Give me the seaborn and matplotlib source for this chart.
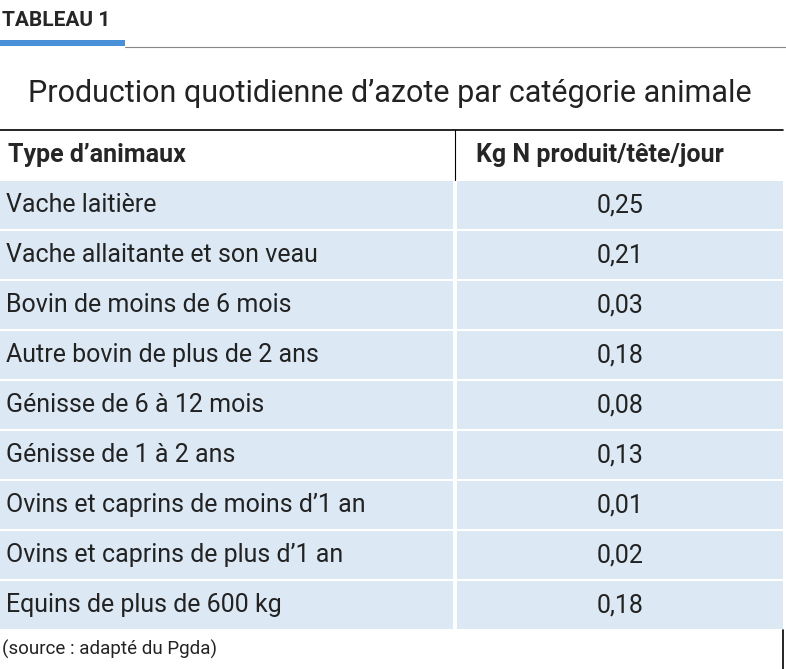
import matplotlib.pyplot as plt
import seaborn as sns
from matplotlib.patches import Rectangle

sns.set_style("white")
plt.rcParams["font.family"] = ["Liberation Sans Narrow", "Roboto", "DejaVu Sans"]

label = "TABLEAU 1"
title = "Production quotidienne d’azote par catégorie animale"
headers = ["Type d’animaux", "Kg N produit/tête/jour"]
animals = ["Vache laitière", "Vache allaitante et son veau", "Bovin de moins de 6 mois",
           "Autre bovin de plus de 2 ans", "Génisse de 6 à 12 mois", "Génisse de 1 à 2 ans",
           "Ovins et caprins de moins d’1 an", "Ovins et caprins de plus d’1 an",
           "Equins de plus de 600 kg"]
values = ["0,25", "0,21", "0,03", "0,18", "0,08", "0,13", "0,01", "0,02", "0,18"]
source = "(source : adapté du Pgda)"

W, H = 786, 669
fig = plt.figure(figsize=(W / 100, H / 100), dpi=100)
ax = fig.add_axes([0, 0, 1, 1])
ax.set_xlim(0, W)
ax.set_ylim(H, 0)
ax.axis("off")

blue = "#dce9f5"
ax.text(2, 20, label, fontsize=15, fontweight="bold", va="center", ha="left")
ax.add_patch(Rectangle((0, 40), 125, 6, color="#4a90d9", lw=0))
ax.plot([125, W], [47, 47], color="#888888", lw=0.8)
ax.text(390, 93, title, fontsize=22, va="center", ha="center", color="#222222")

ax.plot([0, 783], [130, 130], color="black", lw=1.2)
ax.text(8, 155, headers[0], fontsize=18, fontweight="bold", va="center")
ax.text(600, 155, headers[1], fontsize=18, fontweight="bold", va="center", ha="center")
ax.plot([455, 455], [130, 180], color="black", lw=0.8)

top, rh = 180, 50
for i, (a, v) in enumerate(zip(animals, values)):
    y = top + i * rh
    ax.add_patch(Rectangle((0, y + 1), 453, rh - 2, color=blue, lw=0))
    ax.add_patch(Rectangle((457, y + 1), 326, rh - 2, color=blue, lw=0))
    ax.text(6, y + rh / 2, a, fontsize=18, va="center", color="#222222")
    ax.text(620, y + rh / 2, v, fontsize=18, va="center", ha="center", color="#222222")

ax.plot([783, 783], [630, H], color="black", lw=1.2)
ax.text(2, 649, source, fontsize=13.5, va="center", color="#222222")

fig.savefig("out.png", dpi=100)
